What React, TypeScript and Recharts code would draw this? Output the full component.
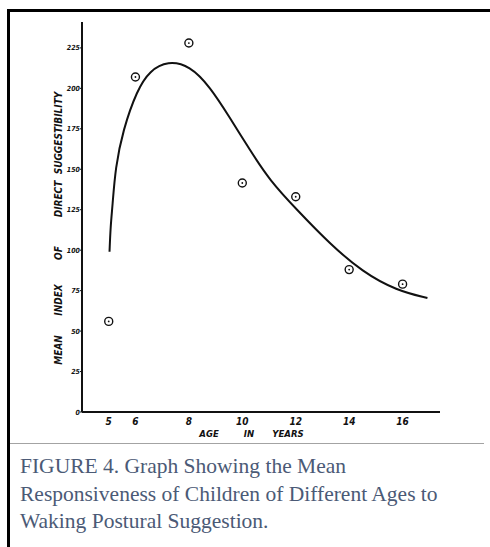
import {
  ComposedChart,
  Line,
  Scatter,
  XAxis,
  YAxis,
} from "recharts";

// fitted curve
const curveAges = [5.03, 5.07, 5.14, 5.25, 5.53, 6.06, 6.54, 7.21, 8.04, 8.79, 9.53, 10.28, 11.03, 12.04, 13.27, 14.5, 15.78, 16.93];
const curveValues = [99, 115, 127, 151, 174, 199, 211, 217, 214, 201, 182, 162, 143, 125, 104, 86.5, 75, 70.5];

// observed means (circled points)
const pointAges = [5, 6, 8, 10, 12, 14, 16];
const pointValues = [56, 207, 228, 141.5, 133, 88, 79];

const xTicks = [5, 6, 8, 10, 12, 14, 16];
const yTicks = [0, 25, 50, 75, 100, 125, 150, 175, 200, 225];

const yTitleWords = ["MEAN", "INDEX", "OF", "DIRECT", "SUGGESTIBILITY"];
const xTitleWords = ["AGE", "IN", "YEARS"];

const captionLines = [
  "FIGURE 4. Graph Showing the Mean",
  "Responsiveness of Children of Different Ages to",
  "Waking Postural Suggestion.",
];

const curveData = curveAges.map((age, i) => ({ age, value: curveValues[i] }));
const pointData = pointAges.map((age, i) => ({ age, value: pointValues[i] }));

const handFont = "'Liberation Sans Narrow', 'DejaVu Sans Condensed', sans-serif";

const YTick = ({ x, y, payload }: any) => (
  <text
    x={x + 2}
    y={y + 2.5}
    textAnchor="end"
    fontFamily={handFont}
    fontStyle="italic"
    fontWeight="bold"
    fontSize={7}
    fill="#111"
  >
    {payload.value}
  </text>
);

const XTick = ({ x, y, payload }: any) => (
  <text
    x={x}
    y={y + 5}
    textAnchor="middle"
    fontFamily={handFont}
    fontStyle="italic"
    fontWeight="bold"
    fontSize={10}
    fill="#111"
  >
    {payload.value}
  </text>
);

// word centres along the axis titles
const yWordCenters = [350, 300, 253, 199, 133];
const xWordCenters = [209, 249, 288];

const YTitle = () => (
  <g>
    {yTitleWords.map((w, i) => (
      <text
        key={w}
        x={0}
        y={0}
        transform={`translate(62, ${yWordCenters[i]}) rotate(-90)`}
        textAnchor="middle"
        fontFamily={handFont}
        fontStyle="italic"
        fontWeight="bold"
        fontSize={10}
        fill="#111"
      >
        {w}
      </text>
    ))}
  </g>
);

const XTitle = () => (
  <g>
    {xTitleWords.map((w, i) => (
      <text
        key={w}
        x={xWordCenters[i]}
        y={437}
        textAnchor="middle"
        fontFamily={handFont}
        fontStyle="italic"
        fontWeight="bold"
        fontSize={9.5}
        fill="#111"
      >
        {w}
      </text>
    ))}
  </g>
);

const CircleDot = ({ cx, cy }: any) => (
  <g>
    <circle cx={cx} cy={cy} r={4} fill="#fff" stroke="#111" strokeWidth={1.4} />
    <circle cx={cx} cy={cy} r={0.9} fill="#111" />
  </g>
);

export default function App() {
  return (
    <div
      style={{
        position: "absolute",
        left: 0,
        top: 0,
        width: 490,
        height: 547,
        background: "#fff",
        overflow: "hidden",
      }}
    >
      {/* frame */}
      <div style={{ position: "absolute", left: 7, top: 9, width: 483, height: 3, background: "#000" }} />
      <div style={{ position: "absolute", left: 7, top: 9, width: 3, height: 538, background: "#000" }} />

      <div style={{ position: "absolute", left: 0, top: 0 }}>
        <ComposedChart
          width={490}
          height={450}
          margin={{ top: 22, right: 50, bottom: 0, left: 42 }}
        >
          <XAxis
            type="number"
            dataKey="age"
            domain={[4, 17.4]}
            ticks={xTicks}
            tick={<XTick />}
            tickLine={false}
            axisLine={{ stroke: "#111", strokeWidth: 2 }}
            height={38}
            allowDataOverflow
            label={{ content: <XTitle /> }}
          />
          <YAxis
            type="number"
            dataKey="value"
            domain={[0, 241]}
            ticks={yTicks}
            tick={<YTick />}
            tickLine={{ stroke: "#111" }}
            tickSize={2}
            axisLine={{ stroke: "#111", strokeWidth: 2 }}
            width={40}
            allowDataOverflow
            label={{ content: <YTitle /> }}
          />
          <Line
            data={curveData}
            dataKey="value"
            type="basis"
            stroke="#111"
            strokeWidth={2}
            dot={false}
            activeDot={false}
            isAnimationActive={false}
          />
          <Scatter
            data={pointData}
            dataKey="value"
            shape={<CircleDot />}
            isAnimationActive={false}
          />
        </ComposedChart>
      </div>

      {/* caption */}
      <div style={{ position: "absolute", left: 10, top: 443, width: 474, height: 1, background: "#a3a3a3" }} />
      <div
        style={{
          position: "absolute",
          left: 20,
          top: 453,
          width: 470,
          fontFamily: "'Liberation Serif', 'DejaVu Serif', serif",
          fontSize: 21.5,
          lineHeight: "27.5px",
          color: "#4b5a76",
          whiteSpace: "nowrap",
        }}
      >
        {captionLines.map((l) => (
          <div key={l}>{l}</div>
        ))}
      </div>
    </div>
  );
}
